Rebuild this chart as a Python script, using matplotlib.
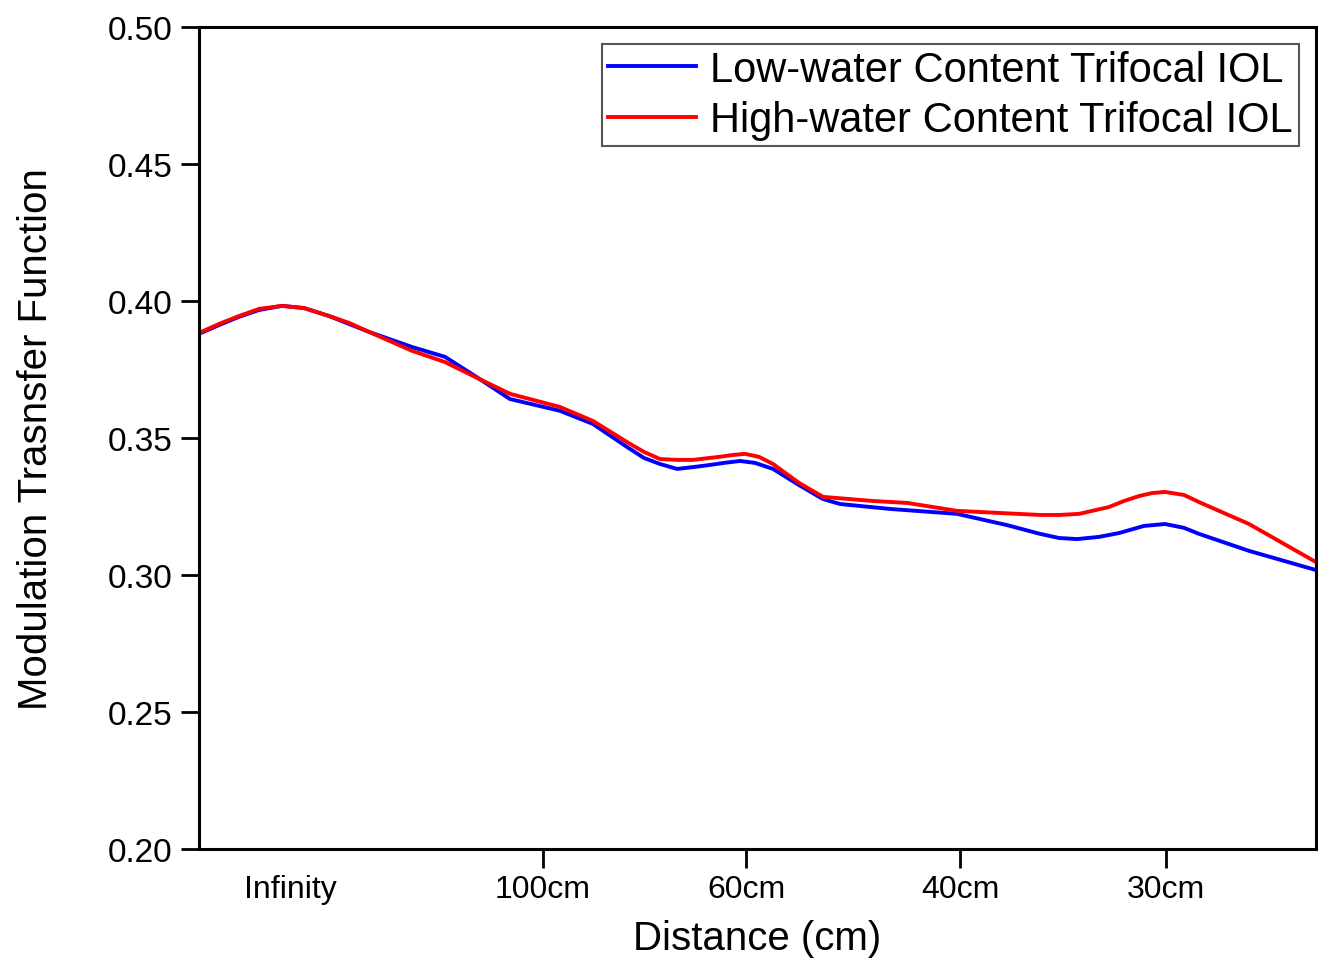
import matplotlib.pyplot as plt

plt.rcParams["font.family"] = ["Liberation Sans", "DejaVu Sans"]

# x positions along the distance axis (arbitrary axis units)
tick_pos = [91, 344, 547, 761, 967]
tick_labels = ["Infinity", "100cm", "60cm", "40cm", "30cm"]

low_x = [0, 20, 40, 60, 83, 105, 130, 150, 170, 213, 246, 276, 311, 361, 394,
         428, 445, 461, 478, 495, 510, 525, 541, 556, 574, 600, 624, 641, 691,
         758, 808, 841, 860, 878, 900, 920, 945, 966, 985, 1000, 1050, 1117]
low_y = [0.3880, 0.3912, 0.3942, 0.3967, 0.3982, 0.3974, 0.3945, 0.3916,
         0.3887, 0.3832, 0.3796, 0.3726, 0.3642, 0.3599, 0.3551, 0.3467,
         0.3427, 0.3405, 0.3387, 0.3394, 0.3401, 0.3409, 0.3416, 0.3409,
         0.3387, 0.3328, 0.3277, 0.3259, 0.3241, 0.3223, 0.3182, 0.3150,
         0.3135, 0.3131, 0.3139, 0.3153, 0.3179, 0.3186, 0.3172, 0.3150,
         0.3088, 0.3018]

high_x = [0, 20, 40, 60, 83, 105, 130, 150, 170, 213, 246, 276, 311, 361, 394,
          428, 445, 461, 478, 494, 520, 534, 546, 560, 574, 600, 624, 674, 708,
          758, 841, 860, 880, 910, 925, 940, 953, 966, 985, 1000, 1050, 1117]
high_y = [0.3883, 0.3916, 0.3945, 0.3971, 0.3982, 0.3974, 0.3945, 0.3920,
          0.3887, 0.3818, 0.3777, 0.3723, 0.3661, 0.3613, 0.3562, 0.3485,
          0.3449, 0.3423, 0.3420, 0.3420, 0.3431, 0.3438, 0.3442, 0.3431,
          0.3405, 0.3336, 0.3285, 0.3270, 0.3263, 0.3234, 0.3219, 0.3219,
          0.3223, 0.3248, 0.3270, 0.3288, 0.3299, 0.3303, 0.3292, 0.3266,
          0.3186, 0.3047]

fig = plt.figure(figsize=(13.18, 9.62), dpi=100)
ax = fig.add_axes([0.151, 0.1164, 0.8475, 0.8546])

ax.plot(low_x, low_y, color="#0000ff", lw=2.8, label="Low-water Content Trifocal IOL")
ax.plot(high_x, high_y, color="#ff0000", lw=2.8, label="High-water Content Trifocal IOL")

ax.set_xlim(0, 1117)
ax.set_ylim(0.20, 0.50)
ax.set_yticks([0.20, 0.25, 0.30, 0.35, 0.40, 0.45, 0.50])
ax.set_yticklabels(["0.20", "0.25", "0.30", "0.35", "0.40", "0.45", "0.50"])
ax.set_xticks(tick_pos)
ax.set_xticklabels(tick_labels)

ax.tick_params(axis="y", direction="out", length=13, width=2, labelsize=24, pad=6)
ax.tick_params(axis="x", direction="out", length=14, width=2, labelsize=23, pad=4)
ax.xaxis.get_major_ticks()[0].tick1line.set_visible(False)

for s in ax.spines.values():
    s.set_linewidth(2.2)

ax.set_xlabel("Distance (cm)", fontsize=29, labelpad=11)
ax.set_ylabel("Modulation Trasnsfer Function", fontsize=29, labelpad=38)

leg = ax.legend(loc="upper right", fontsize=30, fancybox=False, framealpha=1,
                edgecolor="#555555", handlelength=2.1, handletextpad=0.35,
                borderpad=0.15, labelspacing=0.25, borderaxespad=0.4)
leg.get_frame().set_linewidth(1.5)

fig.savefig("out.png", dpi=100)
plt.close()
